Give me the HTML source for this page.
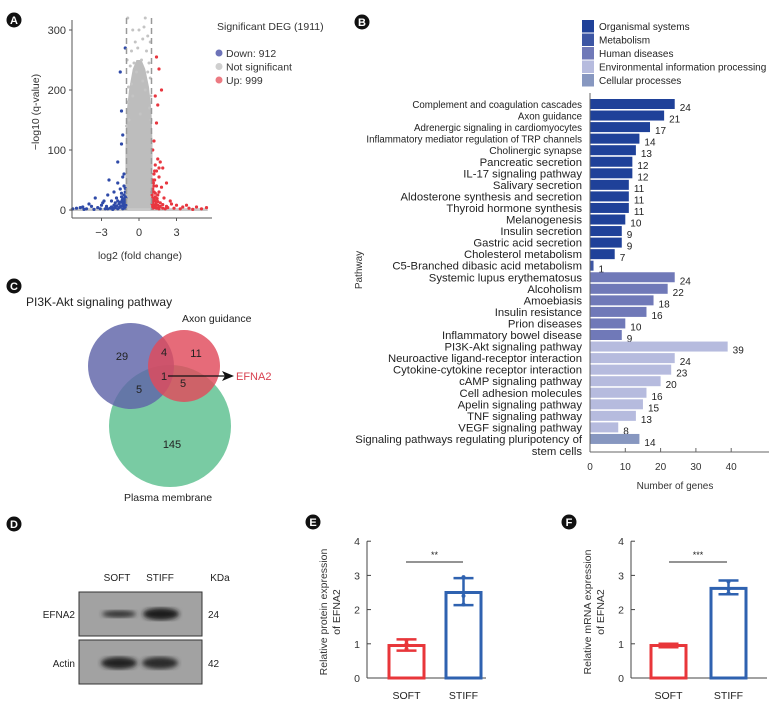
<!DOCTYPE html>
<html><head><meta charset="utf-8"><style>
body{margin:0;background:#fff}
svg{display:block;font-family:"Liberation Sans",Arial,sans-serif}
</style></head><body>
<svg id="fig" width="769" height="705" viewBox="0 0 769 705">
<g id="pA"></g>
<g id="pB"></g>
<g id="pC"></g>
<g id="pD"></g>
<g id="pE"></g>
<g id="pF"></g>
</svg>
<script>
// ---- Panel A data ----
const volcDown=[[-1.1,270],[-1.5,230],[-1.4,165],[-1.3,125],[-1.4,110],[-1.7,80],[-2.4,50],[-1.7,45],[-1.2,60],[-1.3,55],[-1.2,40],[-1.5,35],[-2,30],[-2.5,25],[-3.5,20],[-2.8,15],[-2.2,15],[-1.8,20],[-1.4,22],[-1.2,25],[-1.1,30],[-4,10],[-4.5,5],[-3,8],[-3.3,4],[-2.6,6],[-2,8],[-1.6,10],[-1.3,12],[-1.1,15],[-5,3],[-4.2,2],[-3.8,6],[-3.1,2],[-2.3,3],[-1.9,4],[-1.5,5],[-1.2,6],[-1.05,8],[-2.9,12],[-1.15,18],[-1.25,8],[-1.35,16],[-4.7,4],[-1.1,3],[-1.3,2],[-1.7,2],[-2.1,1],[-2.7,2],[-3.6,1],[-4.4,1],[-5.3,2],[-1.2,10],[-1.1,22],[-1.4,28],[-1.1,10],[-1.2,4],[-1.4,7],[-1.6,4],[-1.8,7],[-2.0,3],[-2.2,5],[-2.5,2],[-1.15,13],[-1.3,19],[-1.5,13],[-1.7,15],[-1.9,12],[-1.05,20],[-1.1,36]];
const volcUp=[[1.4,255],[1.6,235],[1.3,190],[1.8,200],[1.5,175],[1.4,145],[1.2,115],[1.1,100],[1.5,85],[1.7,80],[1.3,75],[1.9,70],[1.2,60],[1.6,55],[1.1,50],[2.2,45],[1.4,40],[1.8,38],[1.2,30],[1.5,25],[2,20],[2.5,15],[1.1,20],[1.3,15],[1.7,12],[3,8],[3.5,5],[4,3],[4.6,5],[5,2],[2.8,3],[2.2,6],[1.9,9],[1.6,5],[1.2,8],[1.05,10],[3.8,8],[1.4,3],[2.6,10],[1.1,3],[1.2,40],[1.1,35],[1.3,28],[1.05,25],[1.2,18],[1.5,14],[1.1,12],[1.3,6],[1.6,2],[2.1,2],[3.3,2],[4.3,1],[5.4,4],[1.25,65],[1.15,45],[1.1,6],[1.2,4],[1.35,10],[1.5,8],[1.7,6],[1.9,3],[2.3,4],[1.15,15],[1.3,22],[1.45,19],[1.6,30],[1.05,30],[1.25,50],[1.4,65],[1.6,70]];
const volcNS=[[-0.5,300],[0.4,305],[0.7,290],[-0.3,280],[0.2,250],[0.8,245],[-0.7,240],[-0.6,210],[0.5,200],[0.9,220],[-0.9,180],[0.1,160],[-0.2,230],[0.6,265],[-0.8,150],[0.85,170],[-0.4,245],[0.3,215],[-1.0,140],[0.95,150],[0.0,300],[0.5,320],[-0.9,320],[-0.95,250],[0.9,280],[-0.1,270],[0.3,285],[-0.6,265],[0.7,230],[-0.85,205],[0.95,190],[-0.5,190]];
// ---- Panel B data ----
const pathways=["Complement and coagulation cascades","Axon guidance","Adrenergic signaling in cardiomyocytes","Inflammatory mediator regulation of TRP channels","Cholinergic synapse","Pancreatic secretion","IL-17 signaling pathway","Salivary secretion","Aldosterone synthesis and secretion","Thyroid hormone synthesis","Melanogenesis","Insulin secretion","Gastric acid secretion","Cholesterol metabolism","C5-Branched dibasic acid metabolism","Systemic lupus erythematosus","Alcoholism","Amoebiasis","Insulin resistance","Prion diseases","Inflammatory bowel disease","PI3K-Akt signaling pathway","Neuroactive ligand-receptor interaction","Cytokine-cytokine receptor interaction","cAMP signaling pathway","Cell adhesion molecules","Apelin signaling pathway","TNF signaling pathway","VEGF signaling pathway","Signaling pathways regulating pluripotency of|stem cells"];
const geneCounts=[24,21,17,14,13,12,12,11,11,11,10,9,9,7,1,24,22,18,16,10,9,39,24,23,20,16,15,13,8,14];
const pathwayCat=[0,0,0,0,0,0,0,0,0,0,0,0,0,0,1,2,2,2,2,2,2,3,3,3,3,3,3,3,3,4];
const catNames=["Organismal systems","Metabolism","Human diseases","Environmental information processing","Cellular processes"];
const catColors=["#1f4199","#3d56a4","#7079b8","#b6bbde","#8797c0"];
const xTicksB=[0,10,20,30,40];
// ---- Panel E/F data ----
const groups=["SOFT","STIFF"];
const proteinMean=[0.95,2.5];
const proteinLow=[0.8,2.13];
const proteinHigh=[1.13,2.92];
const proteinPts=[[0.85,1.0,1.1],[2.15,2.4,2.95]];
const mrnaMean=[0.95,2.62];
const mrnaLow=[0.9,2.45];
const mrnaHigh=[1.0,2.85];
const mrnaPts=[[0.93,0.96,0.98],[2.48,2.6,2.82]];
const yTicksEF=[0,1,2,3,4];

const NS="http://www.w3.org/2000/svg";
function mk(parent,tag,attrs,text){const e=document.createElementNS(NS,tag);for(const k in attrs)e.setAttribute(k,attrs[k]);if(text!==undefined)e.textContent=text;parent.appendChild(e);return e;}
function badge(g,x,y,L){
  const c=mk(g,'circle',{cx:x,cy:y,r:7.5,fill:'#111'});
  
  
  const t=mk(g,'text',{x:x,y:y+4,'text-anchor':'middle','font-size':11,'font-weight':'bold',fill:'#fff'},L);
  
  
}

// ===== Panel A =====
(function(){
const g=document.getElementById('pA');
badge(g,14,20,'A');
const xs=v=>139+v*12.5, ys=v=>210-v*0.6;
const cloud=[[-1.08,0],[-1.08,100],[-1.0,160],[-0.8,200],[-0.5,235],[-0.2,250],[0.2,250],[0.5,235],[0.8,205],[1.0,165],[1.08,110],[1.08,0]];
const cp=mk(g,'path',{d:'M'+cloud.map(p=>xs(p[0])+','+ys(p[1])).join('L')+'Z',fill:'#bdbdbd'});


const band=mk(g,'rect',{x:xs(-5.5),y:ys(3),width:xs(5.5)-xs(-5.5),height:ys(0)-ys(3)+1,fill:'#c8c8c8'});


volcNS.forEach(p=>{const c=mk(g,'circle',{cx:xs(p[0]),cy:ys(p[1]),r:1.5,fill:'#c4c4c4'});

});
volcDown.forEach(p=>{const c=mk(g,'circle',{cx:xs(p[0]),cy:ys(p[1]),r:1.6,fill:'#2f4aa8'});

});
volcUp.forEach(p=>{const c=mk(g,'circle',{cx:xs(p[0]),cy:ys(p[1]),r:1.6,fill:'#e8363f'});

});
[-1,1].forEach(v=>{const l=mk(g,'line',{x1:xs(v),x2:xs(v),y1:18,y2:ys(0),stroke:'#999','stroke-width':1.5,'stroke-dasharray':'6,4'});

});
mk(g,'line',{x1:72,y1:20,x2:72,y2:218,stroke:'#555','stroke-width':1});
mk(g,'line',{x1:72,y1:218,x2:212,y2:218,stroke:'#555','stroke-width':1});
[0,100,200,300].forEach(v=>{mk(g,'line',{x1:69,x2:72,y1:ys(v),y2:ys(v),stroke:'#555'});
const t=mk(g,'text',{x:66,y:ys(v)+4,'text-anchor':'end','font-size':11,fill:'#333'},v);

});
[-3,0,3].forEach(v=>{mk(g,'line',{x1:xs(v),x2:xs(v),y1:218,y2:221,stroke:'#555'});
const t=mk(g,'text',{x:xs(v),y:236,'text-anchor':'middle','font-size':11,fill:'#333'},v<0?'\u2212'+(-v):v);

});
const xt=mk(g,'text',{x:140,y:259,'text-anchor':'middle','font-size':10.5,fill:'#333'},'log2 (fold change)');


const yt=mk(g,'text',{x:0,y:0,transform:'translate(39,112) rotate(-90)','text-anchor':'middle','font-size':10.5,fill:'#333'},'\u2212log10 (q-value)');


const lt=mk(g,'text',{x:217,y:30,'font-size':10.5,fill:'#333'},'Significant DEG (1911)');


[['Down: 912','#6d73b8'],['Not significant','#cfcfcf'],['Up: 999','#ec7a82']].forEach((d,i)=>{
const y=53+i*13.5;
const c=mk(g,'circle',{cx:219,cy:y,r:3.5,fill:d[1]});


const t=mk(g,'text',{x:226,y:y+4,'font-size':10.5,fill:'#333'},d[0]);

});
})();

// ===== Panel B =====
(function(){
const g=document.getElementById('pB');
badge(g,362,22,'B');
const x0=590, xs=v=>x0+v*3.53;
const yc=i=>104+i*11.55;
catNames.forEach((n,i)=>{const y=20+i*13.5;
const r=mk(g,'rect',{x:582,y:y,width:12,height:12.5,fill:catColors[i]});


const t=mk(g,'text',{x:599,y:y+10,'font-size':10,fill:'#222'},n);

});
pathways.forEach((p,i)=>{
const y=yc(i), v=geneCounts[i];
const b=mk(g,'rect',{x:x0,y:y-5,width:xs(v)-x0,height:10,fill:catColors[pathwayCat[i]]});


const vl=mk(g,'text',{x:xs(v)+5,y:y+7,'font-size':10,fill:'#222'},v);


const fs=i<4?9.7:(i<5?10.3:11.3);
p.split('|').forEach((pt,k)=>{
const t=mk(g,'text',{x:582,y:y+4+k*12,'text-anchor':'end','font-size':fs,fill:'#222'},pt);

});
});
mk(g,'line',{x1:x0,y1:93,x2:x0,y2:452,stroke:'#666','stroke-width':1});
mk(g,'line',{x1:x0,y1:452,x2:769,y2:452,stroke:'#666','stroke-width':1});
xTicksB.forEach(v=>{mk(g,'line',{x1:xs(v),x2:xs(v),y1:448,y2:452,stroke:'#666'});
const t=mk(g,'text',{x:xs(v),y:470,'text-anchor':'middle','font-size':10,fill:'#333'},v);

});
const xt=mk(g,'text',{x:675,y:489,'text-anchor':'middle','font-size':10,fill:'#333'},'Number of genes');


const yt=mk(g,'text',{x:0,y:0,transform:'translate(362,270) rotate(-90)','text-anchor':'middle','font-size':10,fill:'#333'},'Pathway');


})();

// ===== Panel C =====
(function(){
const g=document.getElementById('pC');
badge(g,14,286,'C');
const t1=mk(g,'text',{x:26,y:306,'font-size':12,fill:'#222'},'PI3K-Akt signaling pathway');


const circles=[[170,426,61,'#5bbf8f','plasma-membrane-circle'],[131,366,43,'#5f64a8','pi3k-circle'],[184,366,36,'#e04a5c','axon-guidance-circle']];
circles.forEach(c=>{const e=mk(g,'circle',{cx:c[0],cy:c[1],r:c[2],fill:c[3],'fill-opacity':0.82});

});
[['29',122,360],['4',164,356],['11',196,357],['1',164,380],['5',183,387],['5',139,393],['145',172,448]].forEach(d=>{
const t=mk(g,'text',{x:d[1],y:d[2],'text-anchor':'middle','font-size':11,fill:'#222'},d[0]);

});
const t2=mk(g,'text',{x:182,y:322,'font-size':10.5,fill:'#222'},'Axon guidance');


mk(g,'line',{x1:168,y1:376,x2:226,y2:376,stroke:'#111','stroke-width':1.2});
mk(g,'path',{d:'M222,371 L234,376 L222,381 L225,376Z',fill:'#111'});
const t3=mk(g,'text',{x:236,y:380,'font-size':11,fill:'#d8404f'},'EFNA2');


const t4=mk(g,'text',{x:168,y:501,'text-anchor':'middle','font-size':10.5,fill:'#222'},'Plasma membrane');


})();

// ===== Panel D =====
(function(){
const g=document.getElementById('pD');
badge(g,14,524,'D');
const defs=mk(g,'defs',{});
const f=mk(defs,'filter',{id:'blur'});mk(f,'feGaussianBlur',{stdDeviation:2.5});
[['SOFT',117],['STIFF',160],['KDa',220]].forEach(d=>{const t=mk(g,'text',{x:d[1],y:581,'text-anchor':'middle','font-size':10,fill:'#222'},d[0]);

});
[[592,'EFNA2','24',614],[640,'Actin','42',663]].forEach((d,i)=>{
const r=mk(g,'rect',{x:79,y:d[0],width:123,height:44,fill:'#a2a2a2',stroke:'#333','stroke-width':1});


const t=mk(g,'text',{x:75,y:d[3]+4,'text-anchor':'end','font-size':10,fill:'#222'},d[1]);


const k=mk(g,'text',{x:208,y:d[3]+4,'font-size':10,fill:'#222'},d[2]);


});
mk(g,'ellipse',{cx:119,cy:614,rx:17,ry:3.5,fill:'#333',filter:'url(#blur)'});
mk(g,'ellipse',{cx:161,cy:614,rx:18,ry:6,fill:'#1a1a1a',filter:'url(#blur)'});
mk(g,'ellipse',{cx:119,cy:663,rx:18,ry:6,fill:'#222',filter:'url(#blur)'});
mk(g,'ellipse',{cx:160,cy:663,rx:18,ry:6,fill:'#2a2a2a',filter:'url(#blur)'});
})();

// ===== Panels E & F =====
function barPanel(id,L,bx,ax,ax1,barX,mean,low,high,pts,sig,sigX,title){
const g=document.getElementById(id);
badge(g,bx,522,L);
const y0=678, ys=v=>y0-v*34.2;
const cols=['#e8363a','#2f62b0'];
mk(g,'line',{x1:ax,y1:ys(4),x2:ax,y2:y0,stroke:'#444'});
mk(g,'line',{x1:ax,y1:y0,x2:ax1,y2:y0,stroke:'#444'});
yTicksEF.forEach(v=>{mk(g,'line',{x1:ax,x2:ax+4,y1:ys(v),y2:ys(v),stroke:'#444'});
const t=mk(g,'text',{x:ax-7,y:ys(v)+4,'text-anchor':'end','font-size':10.5,fill:'#333'},v);

});
groups.forEach((gr,i)=>{
const x=barX[i], w=35, cx=x+w/2;
const b=mk(g,'rect',{x:x,y:ys(mean[i]),width:w,height:y0-ys(mean[i]),fill:'none',stroke:cols[i],'stroke-width':3});


const e=mk(g,'path',{d:`M${cx},${ys(low[i])}V${ys(high[i])}M${cx-10},${ys(low[i])}H${cx+10}M${cx-10},${ys(high[i])}H${cx+10}`,stroke:cols[i],'stroke-width':2.5,fill:'none'});


pts[i].forEach(p=>{const c=mk(g,'circle',{cx:cx,cy:ys(p),r:2,fill:cols[i]});

});
const t=mk(g,'text',{x:cx,y:699,'text-anchor':'middle','font-size':10.5,fill:'#222'},gr);


});
const sl=mk(g,'line',{x1:sigX[0],x2:sigX[1],y1:562,y2:562,stroke:'#555','stroke-width':1.2});


const st=mk(g,'text',{x:(sigX[0]+sigX[1])/2,y:558,'text-anchor':'middle','font-size':9,fill:'#222'},sig);


const yt=mk(g,'text',{x:0,y:0,transform:`translate(${ax-34},612) rotate(-90)`,'text-anchor':'middle','font-size':10.5,fill:'#333'});


mk(yt,'tspan',{x:0,dy:-6},title);
mk(yt,'tspan',{x:0,dy:13},'of EFNA2');
}
barPanel('pE','E',313,367,486,[389,446],proteinMean,proteinLow,proteinHigh,proteinPts,'**',[406,463],'Relative protein expression');
barPanel('pF','F',569,631,767,[651,711],mrnaMean,mrnaLow,mrnaHigh,mrnaPts,'***',[669,727],'Relative mRNA expression');
</script>
</body></html>
